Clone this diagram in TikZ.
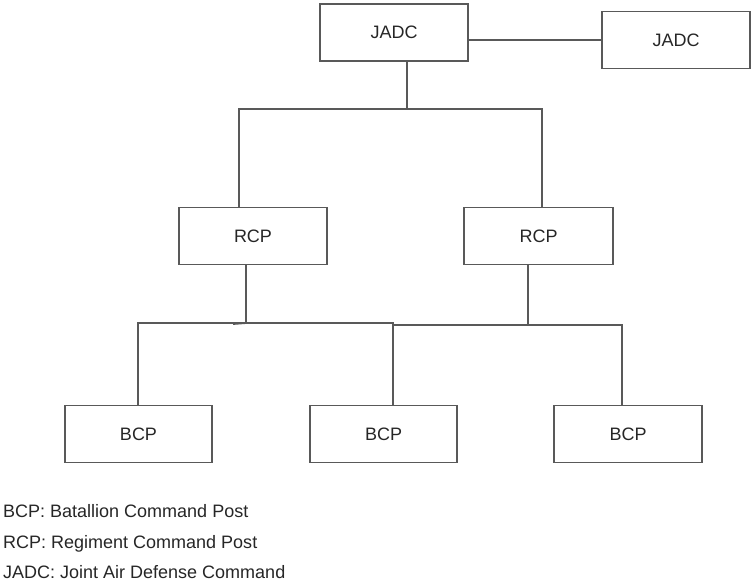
\documentclass[tikz,border=0pt]{standalone}
\usepackage{fontspec}
\setmainfont{Liberation Sans}
\begin{document}
\begin{tikzpicture}[x=1pt,y=-1pt,
  every node/.style={font=\fontsize{18}{21}\selectfont, text=black!85},
  unitbox/.style={draw=black!65, line width=1.2pt, rectangle, inner sep=0pt,
    minimum width=148pt, minimum height=57pt},
  link/.style={draw=black!65, line width=1.2pt},
  legend/.style={anchor=base west, inner sep=0pt}]
\useasboundingbox (0,0) rectangle (751,584);

% command posts
\node[unitbox] (jadc)  at (394,32.5) {JADC};
\node[unitbox] (jadcb) at (676,40)   {JADC};
\node[unitbox] (rcpa)  at (253,236)  {RCP};
\node[unitbox, minimum width=149pt] (rcpb) at (538.5,236) {RCP};
\node[unitbox, minimum width=147pt] (bcpa) at (138.5,434) {BCP};
\node[unitbox, minimum width=147pt] (bcpb) at (383.5,434) {BCP};
\node[unitbox] (bcpc)  at (628,434)  {BCP};

% junction points
\coordinate (jtop) at (407,109);
\coordinate (jl)   at (239,109);
\coordinate (jr)   at (542,109);
\coordinate (ka)   at (246,323);
\coordinate (kb)   at (528,325);
\coordinate (ba)   at (138,323);
\coordinate (bm)   at (393,323);
\coordinate (bmr)  at (393,325);
\coordinate (bc)   at (622,325);

% connectors
\draw[link] (jadcb.west) -- (jadcb.west -| jadc.east);
\draw[link] (jadc.south -| jtop) -- (jtop);
\draw[link] (rcpa.north -| jl) -- (jl) -- (jr) -- (rcpb.north -| jr);
\draw[link] (rcpa.south -| ka) -- (ka);
\draw[link] (rcpb.south -| kb) -- (kb);
\draw[link] (bcpa.north -| ba) -- (ba) -- (bm) -- (bcpb.north -| bm);
\draw[link] (bmr) -- (bc) -- (bcpc.north -| bc);
\draw[link, line width=1.8pt] (233,324) -- (ka);

% legend
\node[legend] (la) at (3,517.5) {BCP: Batallion Command Post};
\node[legend] (lb) at (3,548.5) {RCP: Regiment Command Post};
\node[legend] (lc) at (3,578.5) {JADC: Joint Air Defense Command};
\end{tikzpicture}
\end{document}
